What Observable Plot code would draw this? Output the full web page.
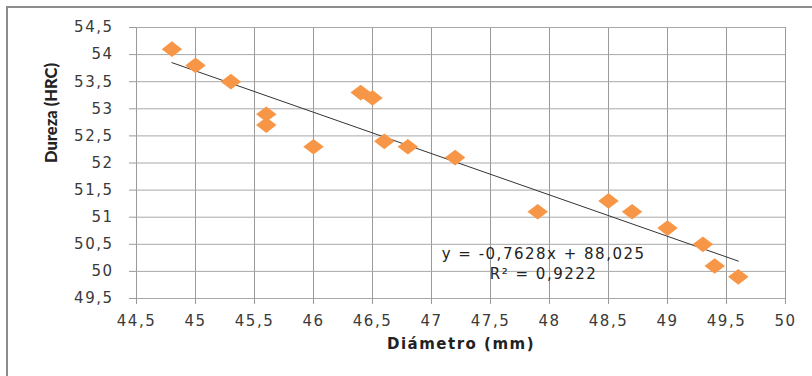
<!DOCTYPE html>
<html>
<head>
<meta charset="utf-8">
<script src="https://cdn.jsdelivr.net/npm/d3@7"></script>
<script src="https://cdn.jsdelivr.net/npm/@observablehq/plot@0.6"></script>
<style>
  html, body { margin: 0; padding: 0; background: #fff; overflow: hidden; }
  #wrap { position: relative; width: 812px; height: 376px; }
  #border { position: absolute; left: 6px; top: 6px; width: 900px; height: 500px;
            border-left: 2px solid #8c8c8c; border-top: 2px solid #8c8c8c; }
  #chart { position: absolute; left: 0; top: 0; }
  .wide text { letter-spacing: 1.5px; }
</style>
</head>
<body>
<div id="wrap"><div id="border"></div><div id="chart"></div></div>
<script>
const diametro = [44.8, 45.0, 45.3, 45.6, 45.6, 46.0, 46.4, 46.5, 46.6, 46.8, 47.2, 47.9, 48.5, 48.7, 49.0, 49.3, 49.4, 49.6];
const dureza   = [54.1, 53.8, 53.5, 52.9, 52.7, 52.3, 53.3, 53.2, 52.4, 52.3, 52.1, 51.1, 51.3, 51.1, 50.8, 50.5, 50.1, 49.9];
const xTicks = [44.5, 45, 45.5, 46, 46.5, 47, 47.5, 48, 48.5, 49, 49.5, 50];
const yTicks = [49.5, 50, 50.5, 51, 51.5, 52, 52.5, 53, 53.5, 54, 54.5];
const slope = -0.7628;
const intercept = 88.025;
const equationLines = ["y = -0,7628x + 88,025", "R² = 0,9222"];
const xTitle = "Diámetro (mm)";
const yTitle = "Dureza (HRC)";

const points = diametro.map((x, i) => ({x, y: dureza[i]}));
const xExt = d3.extent(diametro);
const trend = xExt.map(x => ({x, y: slope * x + intercept}));
const fmt = d => String(d).replace(".", ",");

const diamond = {
  draw(context, size) {
    const r = Math.sqrt(size / Math.PI);
    const hw = r * 1.28, hh = r * 0.98;
    context.moveTo(0, -hh);
    context.lineTo(hw, 0);
    context.lineTo(0, hh);
    context.lineTo(-hw, 0);
    context.closePath();
  }
};

const font = "DejaVu Sans, sans-serif";
const chart = Plot.plot({
  width: 812,
  height: 376,
  marginLeft: 136,
  marginRight: 27,
  marginTop: 27,
  marginBottom: 78,
  style: {fontFamily: font, fontSize: "15px", color: "#333", background: "transparent"},
  x: {domain: [44.5, 50]},
  y: {domain: [49.5, 54.5]},
  marks: [
    Plot.gridX(xTicks, {stroke: "#9a9a9a", strokeOpacity: 1}),
    Plot.gridY(yTicks, {stroke: "#a8a8a8", strokeOpacity: 1}),
    Plot.axisX(xTicks, {tickSize: 6, tickPadding: 11, tickFormat: fmt, stroke: "#9a9a9a", fill: "#3a3a3a", label: null, fontSize: 15, className: "wide"}),
    Plot.axisY(yTicks, {tickSize: 7, tickPadding: 16, tickFormat: fmt, stroke: "#9a9a9a", fill: "#3a3a3a", label: null, fontSize: 15, className: "wide"}),
    Plot.line(trend, {x: "x", y: "y", stroke: "#333", strokeWidth: 1}),
    Plot.dot(points, {x: "x", y: "y", symbol: diamond, r: 8, fill: "#F79646", stroke: "none"}),
    Plot.text([equationLines.join("\n")], {x: 47.95, y: 50.17, text: d => d, textAnchor: "middle", lineAnchor: "middle", lineHeight: 1.35, fontSize: 15, fill: "#222", className: "wide"}),
    Plot.text([xTitle], {frameAnchor: "bottom", dy: 50, text: d => d, fontWeight: "bold", fontSize: 15, fill: "#222", className: "wide"}),
    Plot.text([yTitle], {frameAnchor: "left", dx: -85, rotate: -90, text: d => d, fontWeight: "900", fontSize: 16.5, fontFamily: "Lato, sans-serif", fill: "#222"})
  ]
});
document.getElementById("chart").appendChild(chart);
</script>
</body>
</html>
